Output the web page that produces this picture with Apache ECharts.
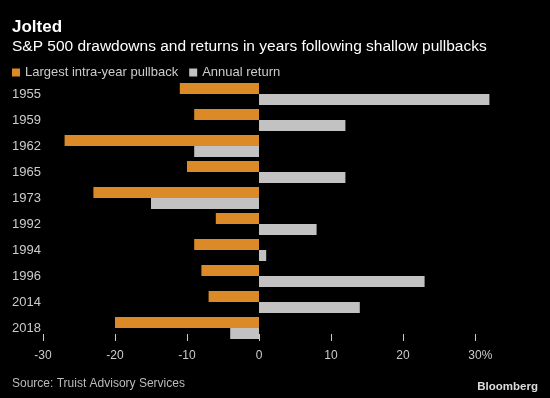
<!DOCTYPE html>
<html>
<head>
<meta charset="utf-8">
<script src="https://cdn.jsdelivr.net/npm/echarts@6/dist/echarts.min.js"></script>
<style>
html,body{margin:0;padding:0;background:#000;}
#c{width:550px;height:398px;}
</style>
</head>
<body>
<div id="c"></div>
<script>
var years = ['1955','1959','1962','1965','1973','1992','1994','1996','2014','2018'];
var pullback = [-11,-9,-27,-10,-23,-6,-9,-8,-7,-20];
var annualReturn = [32,12,-9,12,-15,8,1,23,14,-4];
var tickValues = [-30,-20,-10,0,10,20,30];
var seriesNames = ['Largest intra-year pullback','Annual return'];

var FONT = 'Liberation Sans, Arial, sans-serif';
var chart = echarts.init(document.getElementById('c'));
chart.setOption({
  backgroundColor: '#000',
  animation: false,
  textStyle: {fontFamily: FONT},
  title: {
    text: 'Jolted',
    subtext: 'S&P 500 drawdowns and returns in years following shallow pullbacks',
    left: 12, top: 19, padding: 0, itemGap: 3,
    textStyle: {color: '#fff', fontSize: 17, fontWeight: 'bold', fontFamily: FONT},
    subtextStyle: {color: '#fff', fontSize: 15.5, fontFamily: FONT}
  },
  legend: {
    left: 12, top: 66, padding: 0,
    icon: 'rect', itemWidth: 8, itemHeight: 8, itemGap: 11,
    textStyle: {color: '#ccc', fontSize: 13, fontFamily: FONT},
    data: seriesNames
  },
  grid: {left: 43, right: 3, top: 81, height: 260},
  xAxis: {
    type: 'value', min: -30, max: 40,
    axisLine: {show: false},
    splitLine: {show: false},
    axisTick: {show: true, inside: true, length: 7, lineStyle: {color: '#ccc'}, customValues: tickValues},
    axisLabel: {
      color: '#ccc', fontSize: 12, margin: 9, customValues: tickValues,
      formatter: function (v) { return v === 30 ? '{h|%}30%' : String(v); },
      rich: {h: {color: 'rgba(0,0,0,0)', fontSize: 12}}
    }
  },
  yAxis: {
    type: 'category', inverse: true, data: years,
    axisLine: {show: false}, axisTick: {show: false},
    axisLabel: {color: '#ccc', fontSize: 13, align: 'left', margin: 31}
  },
  series: [
    {name: seriesNames[0], type: 'bar', data: pullback, barWidth: 11, barGap: 0,
     itemStyle: {color: '#DC8A27'}},
    {name: seriesNames[1], type: 'bar', data: annualReturn, barWidth: 11, barGap: 0,
     itemStyle: {color: '#C2C2C2'}}
  ],
  graphic: [
    {type: 'text', left: 12, top: 378, style: {text: 'Source: Truist Advisory Services', fill: '#bbb', font: '12px ' + FONT}},
    {type: 'text', right: 12, top: 381, style: {text: 'Bloomberg', fill: '#ddd', font: 'bold 11.5px ' + FONT}}
  ]
});
</script>
</body>
</html>
